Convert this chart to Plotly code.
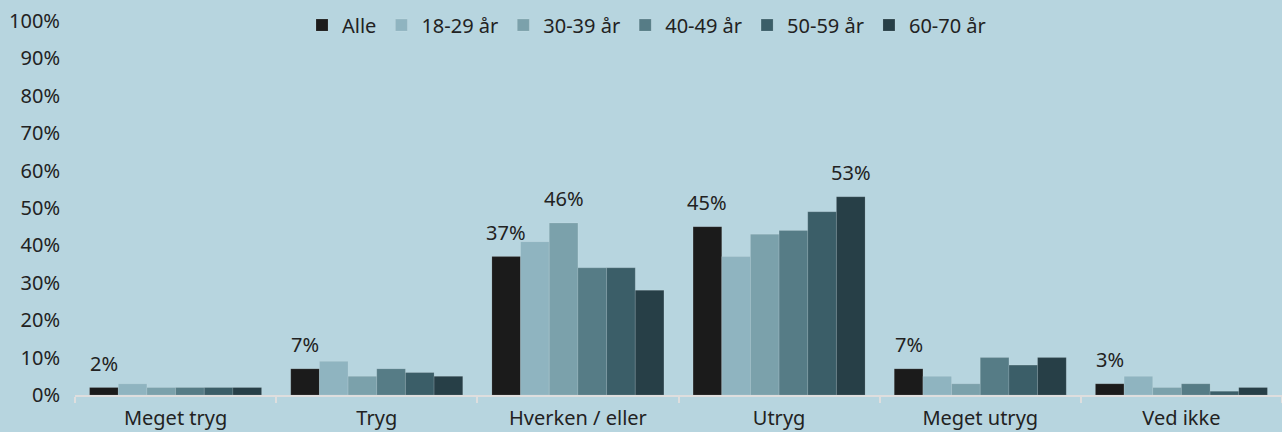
import plotly.graph_objects as go

categories = ["Meget tryg", "Tryg", "Hverken / eller", "Utryg", "Meget utryg", "Ved ikke"]
series_names = ["Alle", "18-29 år", "30-39 år", "40-49 år", "50-59 år", "60-70 år"]

alle = [2, 7, 37, 45, 7, 3]
age_18_29 = [3, 9, 41, 37, 5, 5]
age_30_39 = [2, 5, 46, 43, 3, 2]
age_40_49 = [2, 7, 34, 44, 10, 3]
age_50_59 = [2, 6, 34, 49, 8, 1]
age_60_70 = [2, 5, 28, 53, 10, 2]

# which bars carry a value label
label_alle = [True, True, True, True, True, True]
label_30_39 = [False, False, True, False, False, False]
label_60_70 = [False, False, False, True, False, False]

series_values = [alle, age_18_29, age_30_39, age_40_49, age_50_59, age_60_70]
label_masks = [label_alle, None, label_30_39, None, None, label_60_70]
colors = ["#1b1b1b", "#8fb4c0", "#7ba1ab", "#567c86", "#3b5e68", "#273f47"]

BARGAP = 0.145
FONT = "Noto Sans"
BG = "#b7d5df"

fig = go.Figure()
for name, vals, col in zip(series_names, series_values, colors):
    fig.add_trace(go.Bar(
        name=name, x=categories, y=vals, marker_color=col,
        marker_line=dict(color="rgba(255,255,255,0.12)", width=1),
        hoverinfo="x+y+name",
    ))

# value labels placed above the labelled bars (position derived from the group layout)
n = len(series_names)
slot = (1 - BARGAP) / n
for k, (vals, mask) in enumerate(zip(series_values, label_masks)):
    if mask is None:
        continue
    for i, (v, m) in enumerate(zip(vals, mask)):
        if not m:
            continue
        fig.add_annotation(
            x=i + (k - (n - 1) / 2) * slot, y=v, xref="x", yref="y",
            text=f"{v}%", showarrow=False, yanchor="bottom", xanchor="center",
            yshift=9, font=dict(size=20, color="#222222", family=FONT),
        )

fig.update_layout(
    width=1282, height=432,
    paper_bgcolor=BG, plot_bgcolor=BG,
    margin=dict(l=75, r=0, t=21, b=37, autoexpand=False),
    barmode="group", bargap=BARGAP, bargroupgap=0,
    font=dict(family=FONT, size=20, color="#222222"),
    legend=dict(orientation="h", x=0.4735, xanchor="center", y=0.989, yanchor="middle",
                font=dict(size=20), itemwidth=30, bgcolor="rgba(0,0,0,0)",
                traceorder="normal", tracegroupgap=0),
    showlegend=True,
)
fig.update_yaxes(range=[0, 100], dtick=10, ticksuffix="%", showgrid=False,
                 zeroline=False, showline=False, ticks="", tickfont=dict(size=20),
                 ticklabelstandoff=14, ticklabeloverflow="allow")
fig.update_xaxes(showline=True, linecolor="#dedede", linewidth=2, ticks="outside",
                 tickson="boundaries", ticklen=6, tickcolor="#dedede", tickwidth=2,
                 showgrid=False, tickfont=dict(size=20), range=[-0.5, 5.5],
                 ticklabelstandoff=4, ticklabeloverflow="allow")

fig.write_html(
    "out.html",
    config={"displayModeBar": False},
    post_script=f"document.body.style.margin='0';document.body.style.background='{BG}';",
)
